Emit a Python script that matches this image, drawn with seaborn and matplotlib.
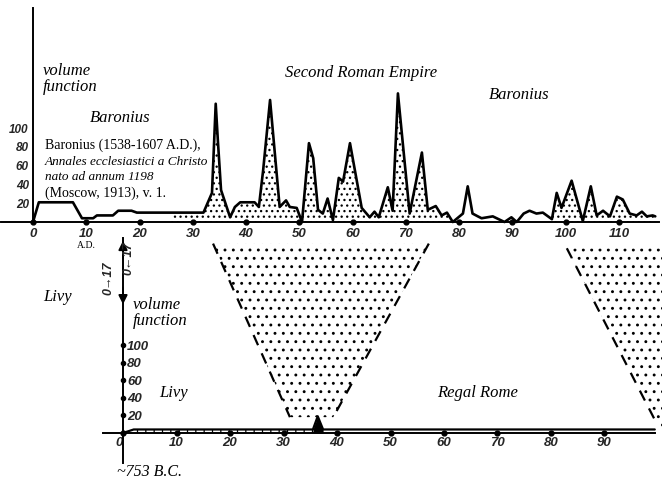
import numpy as np
import pandas as pd
import seaborn as sns
import matplotlib.pyplot as plt
from matplotlib.patches import Polygon, Rectangle
from matplotlib.lines import Line2D

# Baronius, volume function (upper graph)
baronius_x = [0, 1.1, 7.5, 9.2, 11.3, 12, 15, 16, 18.5, 19.5, 32, 33.6, 34.3, 34.7, 35.3, 37,
              37.9, 38.9, 41.6, 42.4, 43.2, 44.5, 46.3, 47.5, 48.2, 49.5, 50.5, 51.8, 52.6, 53.5,
              54.4, 55.3, 56.3, 57.4, 58.2, 59.5, 61.7, 63.2, 64.1, 64.9, 66.6, 67.5, 68.5, 70.7,
              73, 74.1, 75.6, 76.7, 77.7, 78.8, 80.7, 81.6, 82.5, 83.5, 84.2, 86.3, 88.5, 89.8,
              90.8, 92.1, 93.2, 94.5, 95.7, 97.4, 98.3, 99.2, 101.1, 103.2, 104.7, 105.8, 107,
              108.3, 109.6, 110.7, 112, 113.3, 114.3, 115.2, 116.3, 116.8]
baronius_y = [0, 21, 21, 4, 4, 7, 7, 12, 12, 10, 10, 31, 126, 87, 34, 5,
              16, 21, 21, 16, 55, 130, 16, 23, 16, 15, 0, 84, 68, 13,
              9, 25, 2, 47, 43, 84, 15, 5, 11, 5, 37, 12, 137, 9,
              74, 13, 17, 7, 10, 0, 9, 38, 9, 6, 4, 6, 0, 5,
              0, 9, 12, 9, 10, 3, 31, 15, 44, 1, 38, 7, 12,
              6, 27, 24, 9, 7, 11, 6, 7, 6]

# Livy, volume function (lower graph)
livy_x = [0, 2, 35.5, 36.4, 37.4, 99.4]
livy_y = [0, 4, 4, 19, 4, 4]

top_xticks = [0, 10, 20, 30, 40, 50, 60, 70, 80, 90, 100, 110]
bottom_xticks = [0, 10, 20, 30, 40, 50, 60, 70, 80, 90]
yticks = [20, 40, 60, 80, 100]

sns.set_theme(style="white")
plt.rcParams['hatch.linewidth'] = 0.9
plt.rcParams['hatch.color'] = 'black'

serif_i = dict(family='Liberation Serif', style='italic', color='black')
num_font = dict(family=['Liberation Sans', 'DejaVu Sans'], style='italic', weight='bold')

fig = plt.figure(figsize=(6.62, 4.8), dpi=100)
fig.patch.set_facecolor('white')

# upper graph
ax = fig.add_axes([1 / 662, 1 - 222 / 480, 658 / 662, 214 / 480])
ax.set_facecolor('none')
df_top = pd.DataFrame({"year": baronius_x, "volume": baronius_y})
sns.lineplot(data=df_top, x="year", y="volume", sort=False, estimator=None,
             color='black', lw=1.9, ax=ax)
ax.lines[-1].set_clip_on(False)
for x0, x1 in [(26, 79), (97, 118)]:
    fb = ax.fill_between(baronius_x, baronius_y, 0, facecolor='none', edgecolor='black',
                         lw=0, hatch='...')
    fb.set_clip_path(Rectangle((x0, 0), x1 - x0, 230, transform=ax.transData))
ax.set_xlim(-6, 117.5)
ax.set_ylim(0, 228)
ax.set_xlabel('')
ax.set_ylabel('')
for s in ['top', 'right']:
    ax.spines[s].set_visible(False)
ax.spines['left'].set_position(('data', 0))
for s in ['left', 'bottom']:
    ax.spines[s].set_color('black')
    ax.spines[s].set_linewidth(1.4)
ax.set_xticks(top_xticks, [str(t) for t in top_xticks])
ax.set_yticks(yticks, [str(t) for t in yticks])
ax.tick_params(axis='x', length=0, pad=4)
ax.tick_params(axis='y', length=4, width=1.3, direction='inout', pad=1, color='black')
for lbl in ax.get_xticklabels():
    lbl.set(**num_font, size=9.5)
for lbl in ax.get_yticklabels():
    lbl.set(**num_font, size=8.5)
ax.plot(top_xticks, np.zeros(len(top_xticks)), 'o', ms=3.5, color='black', clip_on=False)
ax.grid(False)

ax.text(1.9, 152, "volume\nfunction", ha='left', va='center', size=12, linespacing=1.0, **serif_i)
ax.text(16.3, 110.6, "Baronius", ha='center', va='center', size=12, **serif_i)
ax.text(61.5, 158.5, "Second Roman Empire", ha='center', va='center', size=12, **serif_i)
ax.text(91.2, 135, "Baronius", ha='center', va='center', size=12, **serif_i)
ax.text(2.25, 82, "Baronius (1538-1607 A.D.),", ha='left', va='center', size=10,
        family='Liberation Serif', color='black')
ax.text(2.25, 64, "Annales ecclesiastici a Christo", ha='left', va='center', size=9.5,
        family='Liberation Serif', style='italic', color='black')
ax.text(2.25, 48, "nato ad annum 1198", ha='left', va='center', size=9.5,
        family='Liberation Serif', style='italic', color='black')
ax.text(2.25, 31, "(Moscow, 1913), v. 1.", ha='left', va='center', size=10,
        family='Liberation Serif', color='black')

# lower graph
ax2 = fig.add_axes([103 / 662, 17 / 480, 552 / 662, 225 / 480])
ax2.set_facecolor('none')
df_bot = pd.DataFrame({"year": livy_x, "volume": livy_y})
sns.lineplot(data=df_bot, x="year", y="volume", sort=False, estimator=None,
             color='black', lw=1.6, ax=ax2)
ax2.lines[-1].set_clip_on(False)
fb = ax2.fill_between(livy_x, livy_y, 0, facecolor='none', edgecolor='black', lw=0, hatch='||')
fb.set_clip_path(Rectangle((2, 0), 33.5, 10, transform=ax2.transData))
lx = np.array(livy_x)
ax2.fill_between(livy_x, livy_y, 0, where=(lx >= 35.5) & (lx <= 37.4), color='black', lw=0)
ax2.set_xlim(-3.74, 99.44)
ax2.set_ylim(-34.1, 221.6)
ax2.set_xlabel('')
ax2.set_ylabel('')
for s in ['top', 'left']:
    ax2.spines[s].set_visible(False)
ax2.spines['right'].set_position(('data', 0))
ax2.spines['bottom'].set_position(('data', 0))
for s in ['right', 'bottom']:
    ax2.spines[s].set_color('black')
    ax2.spines[s].set_linewidth(1.4)
ax2.yaxis.set_ticks_position('right')
ax2.set_xticks(bottom_xticks, [str(t) for t in bottom_xticks])
ax2.set_yticks(yticks, [str(t) for t in yticks])
ax2.tick_params(axis='both', length=0, pad=3)
for lbl in ax2.get_xticklabels():
    lbl.set(**num_font, size=9.5)
ax2.get_xticklabels()[0].set_ha('right')
for lbl in ax2.get_yticklabels():
    lbl.set(**num_font, size=9.5)
ax2.plot(bottom_xticks, np.zeros(len(bottom_xticks)), 'o', ms=3.5, color='black', clip_on=False)
ax2.plot(np.zeros(len(yticks)), yticks, 'o', ms=3, color='black', clip_on=False)
ax2.grid(False)

arrow = dict(arrowstyle='-|>', color='black', lw=1.4, mutation_scale=13)
ax2.annotate('', xy=(0, 221.6), xytext=(0, 195), arrowprops=arrow, annotation_clip=False)
ax2.annotate('', xy=(0, 143), xytext=(0, 168), arrowprops=arrow, annotation_clip=False)
ax2.text(-2.8, 176, "0\u219217", rotation=90, ha='center', va='center', size=9, **num_font)
ax2.text(1.1, 199, "0\u219017", rotation=90, ha='center', va='center', size=9, **num_font)

ax2.text(-6.9, 213.6, "A.D.", ha='center', va='center', size=7, family='Liberation Serif', color='black')
ax2.text(-12.3, 154.5, "Livy", ha='center', va='center', size=12, **serif_i)
ax2.text(1.87, 136, "volume\nfunction", ha='left', va='center', size=12, linespacing=1.0, **serif_i)
ax2.text(9.5, 45.5, "Livy", ha='center', va='center', size=12, **serif_i)
ax2.text(66.2, 45.5, "Regal Rome", ha='center', va='center', size=12, **serif_i)
ax2.text(5.0, -44, "~753 B.C.", ha='center', va='center', size=11.5, **serif_i)


# dotted funnels linking the two graphs
def to_fig(a, x, y):
    return fig.transFigure.inverted().transform(a.transData.transform((x, y)))


tl, tr = to_fig(ax, 33.8, -23), to_fig(ax, 74.3, -23)
br, bl = to_fig(ax2, 39.3, 18), to_fig(ax2, 31.2, 18)
fig.add_artist(Polygon([tl, tr, br, bl], closed=True, transform=fig.transFigure,
                       facecolor='none', edgecolor='black', lw=0, hatch='..'))
for p, q in [(tl, bl), (tr, br)]:
    fig.add_artist(Line2D([p[0], q[0]], [p[1], q[1]], transform=fig.transFigure,
                          color='black', lw=1.6, ls=(0, (5, 4))))

rt, rb = to_fig(ax, 100.2, -28), to_fig(ax2, 99.4, 15)
fig.add_artist(Polygon([rt, (1.0, rt[1]), (1.0, rb[1] - 0.02), rb], closed=True,
                       transform=fig.transFigure, facecolor='none', edgecolor='black',
                       lw=0, hatch='..'))
fig.add_artist(Line2D([rt[0], rb[0]], [rt[1], rb[1]], transform=fig.transFigure,
                      color='black', lw=1.6, ls=(0, (5, 4))))

fig.savefig('out.png', dpi=100)
